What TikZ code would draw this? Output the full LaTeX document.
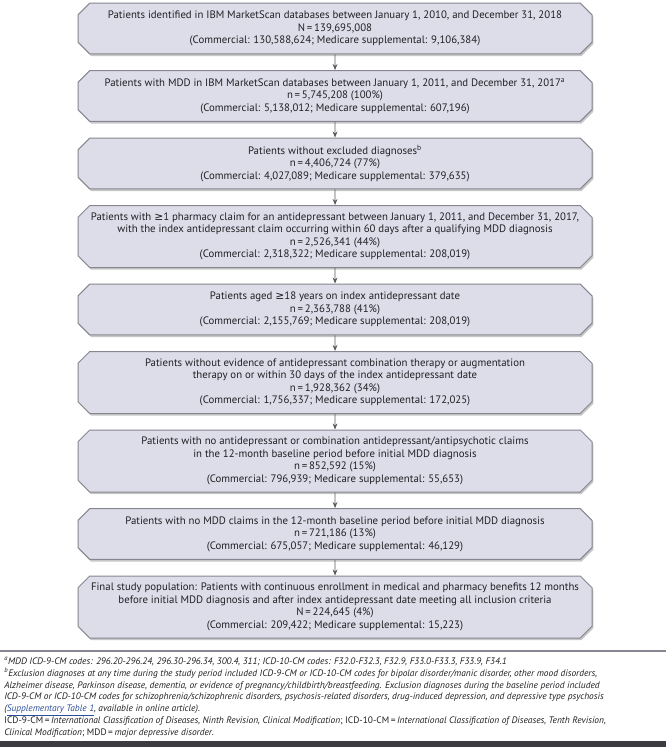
\documentclass[tikz,border=0pt]{standalone}
\usepackage{fontspec}
\setmainfont{PT Sans}
\newfontfamily\symfont{DejaVu Sans}
\usepackage{tikz}
\usetikzlibrary{shapes.misc}
\usetikzlibrary{shadows}
\usetikzlibrary{arrows.meta}
\usepackage{xcolor}
\definecolor{boxfill}{HTML}{DCDDE9}
\definecolor{boxline}{HTML}{85868F}
\definecolor{arrowgray}{HTML}{5A5A5E}
\definecolor{textgray}{HTML}{202024}
\definecolor{linkblue}{HTML}{2E4F9C}
\definecolor{barcol}{HTML}{3B3C40}
\newcommand{\geqsym}{{\symfont ≥}}

\begin{document}
\begin{tikzpicture}[x=0.75pt,y=-0.75pt,
  flowbox/.style={chamfered rectangle, chamfered rectangle xsep=5.5pt,
    draw=boxline, line width=0.75pt, fill=boxfill, text=textgray,
    minimum width=385.5pt, inner xsep=2pt, inner ysep=1pt, align=center,
    font=\fontsize{8.1}{9.4}\selectfont,
    drop shadow={shadow xshift=1pt, shadow yshift=-1.6pt, fill=black, opacity=0.22}},
  short/.style={flowbox, minimum height=38.2pt},
  tall/.style={flowbox, minimum height=46.5pt},
  flowarrow/.style={draw=arrowgray, line width=0.6pt, -{Stealth[length=4.5pt,width=3.6pt]}}]
\useasboundingbox (0,0) rectangle (666,747);

\node[short] (b1) at (335,28.5) {Patients identified in IBM MarketScan databases between January 1, 2010, and December 31, 2018\\N\,=\,139,695,008\\(Commercial: 130,588,624; Medicare supplemental: 9,106,384)};
\node[short] (b2) at (335,96) {Patients with MDD in IBM MarketScan databases between January 1, 2011, and December 31, 2017\textsuperscript{a}\\n\,=\,5,745,208 (100\%)\\(Commercial: 5,138,012; Medicare supplemental: 607,196)};
\node[short] (b3) at (335,163.5) {Patients without excluded diagnoses\textsuperscript{b}\\n\,=\,4,406,724 (77\%)\\(Commercial: 4,027,089; Medicare supplemental: 379,635)};
\node[tall] (b4) at (335,236.5) {Patients with \geqsym1 pharmacy claim for an antidepressant between January 1, 2011, and December 31, 2017,\\with the index antidepressant claim occurring within 60 days after a qualifying MDD diagnosis\\n\,=\,2,526,341 (44\%)\\(Commercial: 2,318,322; Medicare supplemental: 208,019)};
\node[short] (b5) at (335,309.5) {Patients aged \geqsym18 years on index antidepressant date\\n\,=\,2,363,788 (41\%)\\(Commercial: 2,155,769; Medicare supplemental: 208,019)};
\node[tall] (b6) at (335,382.5) {Patients without evidence of antidepressant combination therapy or augmentation\\therapy on or within 30 days of the index antidepressant date\\n\,=\,1,928,362 (34\%)\\(Commercial: 1,756,337; Medicare supplemental: 172,025)};
\node[tall] (b7) at (335,461) {Patients with no antidepressant or combination antidepressant/antipsychotic claims\\in the 12-month baseline period before initial MDD diagnosis\\n\,=\,852,592 (15\%)\\(Commercial: 796,939; Medicare supplemental: 55,653)};
\node[short] (b8) at (335,534) {Patients with no MDD claims in the 12-month baseline period before initial MDD diagnosis\\n\,=\,721,186 (13\%)\\(Commercial: 675,057; Medicare supplemental: 46,129)};
\node[tall] (b9) at (335,607) {Final study population: Patients with continuous enrollment in medical and pharmacy benefits 12 months\\before initial MDD diagnosis and after index antidepressant date meeting all inclusion criteria\\N\,=\,224,645 (4\%)\\(Commercial: 209,422; Medicare supplemental: 15,223)};

% arrows between steps
\draw[flowarrow] (b1) -- (b2);
\draw[flowarrow] (b2) -- (b3);
\draw[flowarrow] (b3) -- (b4);
\draw[flowarrow] (b4) -- (b5);
\draw[flowarrow] (b5) -- (b6);
\draw[flowarrow] (b6) -- (b7);
\draw[flowarrow] (b7) -- (b8);
\draw[flowarrow] (b8) -- (b9);

% footnotes
\draw[boxline, line width=0.8pt] (0,651) -- (666,651);
\node[anchor=north west, align=left, inner sep=0pt, text=textgray,
  font=\fontsize{7.05}{8.8}\selectfont] (notes) at (4,657) {%
\textit{\textsuperscript{a}MDD ICD-9-CM codes: 296.20-296.24, 296.30-296.34, 300.4, 311; ICD-10-CM codes: F32.0-F32.3, F32.9, F33.0-F33.3, F33.9, F34.1}\\
\textit{\textsuperscript{b}Exclusion diagnoses at any time during the study period included ICD-9-CM or ICD-10-CM codes for bipolar disorder/manic disorder, other mood disorders,}\\
\textit{Alzheimer disease, Parkinson disease, dementia, or evidence of pregnancy/childbirth/breastfeeding. Exclusion diagnoses during the baseline period included}\\
\textit{ICD-9-CM or ICD-10-CM codes for schizophrenia/schizophrenic disorders, psychosis-related disorders, drug-induced depression, and depressive type psychosis}\\
\textit{(\textcolor{linkblue}{\underline{Supplementary Table 1}}, available in online article).}\\
ICD-9-CM\,=\,\textit{International Classification of Diseases, Ninth Revision, Clinical Modification}; ICD-10-CM\,=\,\textit{International Classification of Diseases, Tenth Revision,}\\
\textit{Clinical Modification}; MDD\,=\,\textit{major depressive disorder}.};
\fill[barcol] (0,741) rectangle (666,747);
\end{tikzpicture}
\end{document}
